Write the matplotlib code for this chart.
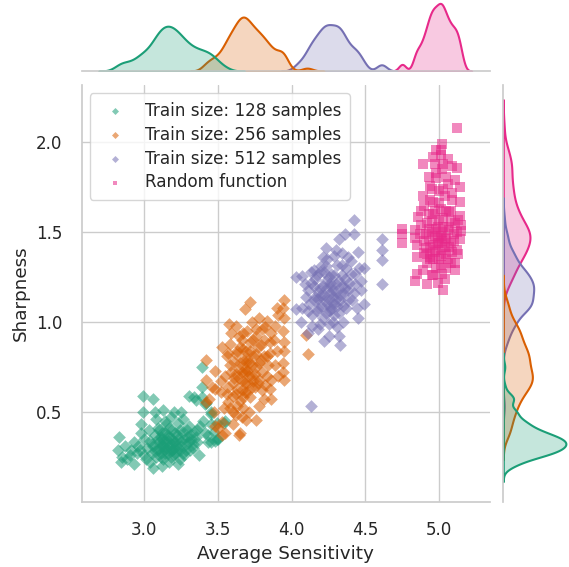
import numpy as np
import pandas as pd
import matplotlib
matplotlib.use("Agg")
import matplotlib.pyplot as plt
import seaborn as sns

# estimated points
green_x = [2.99, 3.06, 3.30, 3.35, 2.99, 3.07, 3.13, 3.20, 3.25, 3.39, 3.42, 3.45,
           2.83, 2.82, 2.85, 2.87, 2.93, 2.93, 2.98, 2.98, 2.95, 2.84, 2.90,
           3.06, 3.23, 3.37, 3.33, 3.12, 3.17,
           3.45, 3.47, 3.41, 3.49, 3.55, 3.45, 3.49,
           3.39, 3.39, 3.34, 3.41, 3.45, 3.54, 3.43, 3.50, 3.43, 3.48,
           3.02, 3.04, 3.05, 3.06, 3.07, 3.08, 3.09, 3.10, 3.10, 3.11, 3.12, 3.12, 3.13,
           3.14, 3.14, 3.15, 3.15, 3.16, 3.17, 3.17, 3.18, 3.19, 3.19, 3.20, 3.21, 3.22,
           3.22, 3.23, 3.24, 3.25, 3.26, 3.27, 3.28, 3.29, 3.30, 3.31, 3.32, 3.34, 3.36,
           3.38, 3.08, 3.18, 3.26, 3.00, 2.97, 3.03, 3.13, 3.16, 3.20, 3.11,
           3.05, 3.07, 3.09, 3.10, 3.11, 3.12, 3.13, 3.14, 3.15, 3.16, 3.17, 3.18, 3.18,
           3.19, 3.20, 3.21, 3.21, 3.22, 3.23, 3.24, 3.25, 3.26, 3.27, 3.28, 3.29, 3.30,
           3.31, 3.33, 3.35, 3.00, 2.96, 3.01, 2.91, 2.88, 3.04, 3.09, 3.14, 3.24, 3.36, 3.40]
green_y = [0.59, 0.57, 0.59, 0.565, 0.50, 0.50, 0.51, 0.50, 0.50, 0.58, 0.55, 0.50,
           0.36, 0.29, 0.25, 0.31, 0.33, 0.21, 0.43, 0.38, 0.27, 0.22, 0.26,
           0.19, 0.21, 0.26, 0.30, 0.20, 0.22,
           0.43, 0.39, 0.38, 0.44, 0.45, 0.33, 0.35,
           0.75, 0.64, 0.58, 0.545, 0.49, 0.44, 0.37, 0.35, 0.33, 0.34,
           0.30, 0.34, 0.27, 0.31, 0.37, 0.25, 0.29, 0.33, 0.40, 0.27, 0.31, 0.35, 0.24,
           0.29, 0.38, 0.33, 0.43, 0.27, 0.31, 0.36, 0.25, 0.29, 0.40, 0.33, 0.27, 0.31,
           0.37, 0.44, 0.29, 0.34, 0.39, 0.26, 0.32, 0.36, 0.42, 0.29, 0.35, 0.39, 0.33,
           0.42, 0.46, 0.47, 0.46, 0.35, 0.29, 0.40, 0.31, 0.34, 0.30, 0.36,
           0.32, 0.28, 0.35, 0.30, 0.25, 0.38, 0.33, 0.27, 0.30, 0.37, 0.41, 0.32, 0.28,
           0.35, 0.26, 0.38, 0.33, 0.29, 0.35, 0.40, 0.31, 0.27, 0.35, 0.29, 0.40, 0.33,
           0.37, 0.32, 0.36, 0.26, 0.31, 0.24, 0.29, 0.24, 0.22, 0.41, 0.45, 0.24, 0.40, 0.45]

orange_x = [3.72, 3.68, 3.95, 3.90, 3.94, 3.91, 3.95,
            3.575, 3.625, 3.73, 3.83, 3.89, 3.80, 3.86, 3.94, 3.95, 3.95, 3.94, 3.94, 3.95,
            3.59, 3.67, 3.76, 3.85, 3.90, 3.83, 3.89, 3.86, 3.85, 3.86, 3.81, 3.78, 3.76,
            3.65, 3.53, 3.50, 3.53, 3.47, 3.44, 3.48, 3.42, 3.42, 3.48, 3.53, 3.56,
            3.58, 3.625, 3.60, 3.69, 3.67, 3.57, 3.52,
            3.55, 3.64, 3.48, 3.42, 3.46, 4.10, 4.11,
            3.55, 3.57, 3.58, 3.60, 3.61, 3.62, 3.63, 3.64, 3.65, 3.65, 3.66, 3.67, 3.68,
            3.68, 3.69, 3.70, 3.71, 3.72, 3.72, 3.73, 3.74, 3.75, 3.76, 3.77, 3.78, 3.79,
            3.80, 3.81, 3.82, 3.84, 3.62, 3.66, 3.70, 3.74, 3.69, 3.63, 3.71, 3.58, 3.76, 3.66,
            3.59, 3.60, 3.61, 3.62, 3.63, 3.64, 3.65, 3.66, 3.67, 3.67, 3.68, 3.69, 3.70,
            3.70, 3.71, 3.72, 3.73, 3.73, 3.74, 3.75, 3.76, 3.77, 3.78, 3.79, 3.80, 3.81,
            3.83, 3.85, 3.56, 3.54, 3.60, 3.66, 3.52, 3.57, 3.64, 3.70, 3.88, 3.91, 3.82, 3.78]
orange_y = [1.11, 1.07, 1.125, 1.08, 1.08, 1.04, 1.02,
            0.99, 0.98, 1.00, 1.005, 0.98, 0.96, 0.94, 0.95, 0.89, 0.84, 0.77, 0.72, 0.675,
            0.94, 0.94, 0.92, 0.89, 0.84, 0.81, 0.76, 0.68, 0.63, 0.57, 0.57, 0.53, 0.455,
            0.38, 0.445, 0.41, 0.37, 0.50, 0.57, 0.63, 0.68, 0.79, 0.73, 0.86, 0.81,
            0.52, 0.48, 0.435, 0.455, 0.52, 0.555, 0.61,
            0.38, 0.37, 0.42, 0.555, 0.64, 0.93, 0.82,
            0.70, 0.64, 0.76, 0.59, 0.69, 0.82, 0.63, 0.74, 0.56, 0.86, 0.67, 0.79, 0.61,
            0.72, 0.84, 0.66, 0.77, 0.58, 0.89, 0.70, 0.81, 0.64, 0.75, 0.86, 0.68, 0.79,
            0.72, 0.90, 0.65, 0.76, 0.71, 0.62, 0.73, 0.67, 0.78, 0.53, 0.50, 0.88, 0.96, 0.90,
            0.72, 0.66, 0.78, 0.60, 0.84, 0.69, 0.77, 0.72, 0.58, 0.85, 0.66, 0.74, 0.80,
            0.61, 0.70, 0.84, 0.64, 0.76, 0.90, 0.71, 0.82, 0.66, 0.77, 0.87, 0.62, 0.81,
            0.70, 0.83, 0.60, 0.52, 0.50, 0.47, 0.67, 0.83, 0.92, 0.95, 0.90, 0.70, 0.97, 1.02]

purple_x = [4.42, 4.36, 4.425, 4.32, 4.45, 4.23, 4.30, 4.34,
            4.03, 4.07, 4.03, 4.07, 4.06, 4.15, 4.11,
            4.49, 4.47, 4.49, 4.45, 4.47,
            4.22, 4.25, 4.32, 4.325, 4.31, 4.14, 4.19, 4.11,
            4.61, 4.61, 4.61, 4.61, 4.13,
            4.12, 4.13, 4.14, 4.16, 4.17, 4.18, 4.19, 4.20, 4.21, 4.22, 4.23, 4.24, 4.25,
            4.26, 4.27, 4.28, 4.29, 4.30, 4.31, 4.32, 4.33, 4.34, 4.35, 4.36, 4.37, 4.38,
            4.39, 4.40, 4.42, 4.43, 4.44, 4.20, 4.24, 4.28, 4.26, 4.22, 4.30, 4.18, 4.15,
            4.27, 4.34, 4.10,
            4.15, 4.16, 4.17, 4.18, 4.19, 4.20, 4.21, 4.22, 4.23, 4.23, 4.24, 4.25, 4.25,
            4.26, 4.27, 4.28, 4.29, 4.29, 4.30, 4.31, 4.32, 4.33, 4.34, 4.35, 4.36, 4.37,
            4.38, 4.40, 4.41, 4.43, 4.13, 4.09, 4.11, 4.21, 4.29, 4.38, 4.46, 4.25, 4.35, 4.18]
purple_y = [1.57, 1.49, 1.49, 1.46, 1.39, 1.41, 1.40, 1.385,
            1.25, 1.255, 1.07, 1.08, 1.00, 1.29, 1.18,
            1.30, 1.23, 1.10, 1.02, 1.18,
            0.895, 0.92, 0.92, 0.87, 0.97, 0.98, 0.99, 0.94,
            1.46, 1.40, 1.345, 1.21, 0.53,
            1.10, 1.22, 1.04, 1.14, 1.26, 1.08, 1.19, 1.31, 1.02, 1.12, 1.23, 1.35, 1.06,
            1.16, 1.27, 1.00, 1.10, 1.21, 1.32, 1.05, 1.15, 1.26, 1.09, 1.19, 1.30, 1.12,
            1.22, 1.34, 1.16, 1.27, 1.08, 1.15, 1.10, 1.18, 1.22, 1.28, 1.13, 1.13, 1.20,
            1.07, 1.20, 1.14,
            1.12, 1.24, 1.06, 1.17, 1.28, 1.09, 1.20, 1.15, 1.05, 1.31, 1.19, 1.13, 1.25,
            1.09, 1.20, 1.14, 1.26, 1.04, 1.17, 1.09, 1.23, 1.12, 1.32, 1.16, 1.24, 1.08,
            1.18, 1.27, 1.12, 1.21, 1.28, 1.21, 1.06, 1.36, 1.37, 1.36, 1.30, 0.99, 1.00, 0.96]

pink_x = [5.12, 5.02, 4.98, 5.01, 5.01,
          4.89, 4.97, 5.03, 5.09, 5.12, 4.93, 4.98, 5.05, 5.11, 5.14,
          4.95, 5.03, 4.89, 4.96, 5.09, 5.14, 4.90, 5.01, 5.07, 4.86, 5.14, 4.88,
          4.75, 4.75, 4.75,
          4.84, 4.84, 4.85, 5.15, 5.15, 5.14, 5.12,
          4.85, 4.85, 4.84, 4.89, 4.92, 4.96, 4.995, 5.02, 5.03, 5.11, 5.11, 5.13, 5.01,
          4.94, 4.90,
          4.90, 4.92, 4.93, 4.94, 4.95, 4.96, 4.97, 4.98, 4.99, 5.00, 5.01, 5.02, 5.03,
          5.04, 5.05, 5.06, 5.07, 5.08, 5.10, 5.11, 4.97, 5.00, 5.04, 4.93, 5.08, 4.98,
          5.05, 4.91, 5.02, 4.99,
          4.91, 4.92, 4.93, 4.94, 4.95, 4.96, 4.96, 4.97, 4.98, 4.99, 5.00, 5.00, 5.01,
          5.02, 5.03, 5.04, 5.05, 5.05, 5.06, 5.07, 5.08, 5.09, 5.10, 5.12, 4.94, 5.00,
          5.06, 4.98, 5.09, 4.95, 5.04, 5.08, 4.92, 5.13, 4.88, 4.87, 5.02, 4.96, 5.06, 4.94]
pink_y = [2.08, 1.99, 1.96, 1.96, 1.93,
          1.88, 1.88, 1.88, 1.87, 1.86, 1.81, 1.83, 1.81, 1.79, 1.75,
          1.74, 1.74, 1.70, 1.67, 1.68, 1.67, 1.645, 1.63, 1.61, 1.585, 1.59, 1.54,
          1.52, 1.49, 1.44,
          1.515, 1.47, 1.43, 1.54, 1.505, 1.46, 1.40,
          1.36, 1.27, 1.23, 1.29, 1.21, 1.26, 1.22, 1.27, 1.18, 1.29, 1.33, 1.38, 1.32,
          1.35, 1.385,
          1.45, 1.38, 1.52, 1.42, 1.56, 1.35, 1.48, 1.40, 1.53, 1.44, 1.37, 1.50, 1.58,
          1.42, 1.47, 1.35, 1.53, 1.44, 1.49, 1.55, 1.62, 1.66, 1.70, 1.60, 1.62, 1.30,
          1.30, 1.49, 1.45, 1.47,
          1.41, 1.55, 1.46, 1.36, 1.50, 1.43, 1.60, 1.39, 1.52, 1.44, 1.35, 1.57, 1.48,
          1.40, 1.53, 1.46, 1.38, 1.62, 1.51, 1.42, 1.56, 1.39, 1.45, 1.50, 1.68, 1.73,
          1.77, 1.80, 1.72, 1.26, 1.24, 1.33, 1.33, 1.57, 1.62, 1.49, 1.85, 1.92, 1.91, 1.76]

labels = ["Train size: 128 samples", "Train size: 256 samples",
          "Train size: 512 samples", "Random function"]
xs = [green_x, orange_x, purple_x, pink_x]
ys = [green_y, orange_y, purple_y, pink_y]
markers = ["D", "D", "D", "s"]

sns.set_theme(style="whitegrid", context="notebook", font_scale=1.1)
colors = sns.color_palette("Dark2", 4)

df = pd.concat([pd.DataFrame({"x": x, "y": y, "group": lab})
                for x, y, lab in zip(xs, ys, labels)], ignore_index=True)

fig = plt.figure(figsize=(5.69, 5.67), dpi=100)
ax = fig.add_axes([0.1436, 0.1152, 0.7176, 0.735])
ax_top = fig.add_axes([0.1436, 0.8748, 0.7176, 0.1252], sharex=ax)
ax_right = fig.add_axes([0.8845, 0.1152, 0.1155, 0.735], sharey=ax)

for x, y, lab, c, m in zip(xs, ys, labels, colors, markers):
    ax.scatter(x, y, color=c, marker=m, s=42, alpha=0.55, linewidths=0, label=lab)

sns.kdeplot(data=df, x="x", hue="group", palette=colors, fill=True,
            ax=ax_top, legend=False, bw_adjust=0.7, linewidth=1.5)
sns.kdeplot(data=df, y="y", hue="group", palette=colors, fill=True,
            ax=ax_right, legend=False, bw_adjust=0.7, linewidth=1.5)

ax.set_xlim(2.575, 5.346)
ax.set_ylim(0.0, 2.32)
ax.set_xticks([3.0, 3.5, 4.0, 4.5, 5.0])
ax.set_yticks([0.5, 1.0, 1.5, 2.0])
ax.tick_params(length=0, pad=14)
ax.set_xlabel("Average Sensitivity")
ax.set_ylabel("Sharpness")
sns.despine(ax=ax)
ax.legend(loc="upper left", markerscale=0.55, labelspacing=0.35,
          borderpad=0.5, handletextpad=0.75)

for a in (ax_top, ax_right):
    a.grid(False)
    a.set_xlabel("")
    a.set_ylabel("")
    a.tick_params(labelbottom=False, labelleft=False, bottom=False, left=False)
ax_top.set_ylim(bottom=0)
ax_right.set_xlim(left=0)
sns.despine(ax=ax_top, left=True)
sns.despine(ax=ax_right, bottom=True)

fig.savefig("out.png", dpi=100)
